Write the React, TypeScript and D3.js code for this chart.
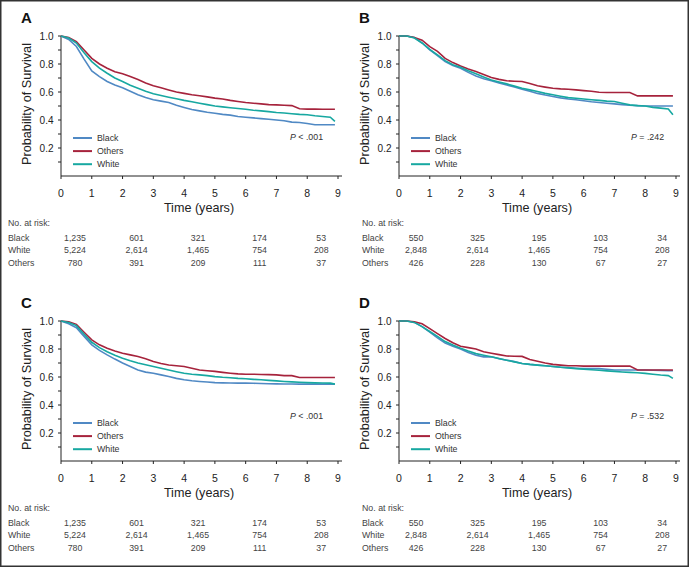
import React from 'react';
import * as d3 from 'd3';

// survival estimates, every quarter year
const times = [0, 0.25, 0.5, 0.75, 1, 1.25, 1.5, 1.75, 2, 2.25, 2.5, 2.75, 3, 3.25, 3.5, 3.75, 4, 4.25, 4.5, 4.75, 5, 5.25, 5.5, 5.75, 6, 6.25, 6.5, 6.75, 7, 7.25, 7.5, 7.75, 8, 8.25, 8.5, 8.75, 8.9];

const aBlack = [1, .975, .925, .835, .75, .71, .675, .65, .63, .605, .58, .56, .545, .535, .525, .505, .49, .475, .465, .455, .448, .44, .435, .425, .42, .415, .41, .405, .40, .395, .385, .382, .375, .366, .366, .366, .366];
const aOthers = [1, .99, .96, .90, .84, .80, .77, .745, .73, .71, .69, .665, .645, .63, .615, .60, .59, .58, .573, .565, .556, .55, .54, .532, .525, .52, .515, .51, .508, .505, .503, .48, .478, .478, .477, .477, .477];
const aWhite = [1, .985, .95, .88, .817, .77, .734, .70, .675, .648, .627, .605, .587, .575, .563, .552, .54, .53, .52, .51, .50, .494, .488, .482, .477, .47, .465, .46, .454, .45, .445, .44, .437, .43, .425, .42, .39];

const bBlack = [1, 1, .99, .95, .90, .86, .817, .79, .77, .74, .715, .695, .68, .665, .65, .635, .62, .605, .59, .578, .568, .558, .55, .545, .537, .53, .525, .52, .515, .51, .505, .503, .50, .50, .50, .50, .50];
const bOthers = [1, 1, .99, .97, .924, .89, .84, .81, .786, .765, .746, .725, .703, .69, .68, .677, .675, .66, .644, .635, .627, .622, .62, .615, .61, .605, .598, .596, .596, .596, .596, .572, .572, .572, .572, .572, .572];
const bWhite = [1, 1, .985, .95, .905, .865, .824, .795, .777, .752, .73, .707, .686, .672, .658, .642, .627, .615, .603, .59, .58, .57, .56, .555, .55, .545, .54, .535, .532, .52, .508, .503, .50, .49, .485, .478, .437];

const cBlack = [1, .98, .952, .89, .83, .79, .758, .728, .70, .675, .65, .635, .627, .615, .603, .59, .58, .573, .568, .564, .56, .558, .557, .556, .556, .555, .554, .552, .551, .55, .55, .549, .549, .549, .549, .549, .549];
const cOthers = [1, .995, .976, .92, .865, .83, .805, .785, .77, .758, .746, .73, .71, .697, .686, .68, .675, .662, .65, .645, .64, .633, .627, .622, .62, .62, .618, .617, .615, .61, .61, .596, .596, .596, .596, .596, .596];
const cWhite = [1, .99, .967, .905, .848, .81, .78, .755, .734, .716, .70, .687, .675, .662, .65, .638, .627, .62, .615, .61, .603, .598, .595, .59, .587, .583, .58, .576, .572, .568, .565, .562, .56, .558, .557, .556, .549];

const dBlack = [1, 1, .99, .96, .92, .88, .843, .82, .80, .775, .755, .744, .744, .73, .72, .71, .697, .69, .685, .68, .675, .67, .667, .663, .66, .66, .66, .655, .65, .65, .65, .65, .65, .648, .647, .645, .645];
const dOthers = [1, 1, .995, .98, .945, .91, .875, .845, .82, .81, .80, .78, .77, .76, .75, .748, .747, .725, .713, .70, .69, .685, .68, .68, .678, .678, .678, .678, .678, .678, .678, .65, .65, .65, .65, .65, .65];
const dWhite = [1, 1, .99, .96, .925, .89, .853, .828, .805, .785, .767, .755, .744, .732, .72, .708, .697, .69, .685, .68, .675, .67, .665, .66, .656, .652, .648, .644, .64, .636, .633, .63, .626, .62, .614, .61, .59];

// numbers at risk
const riskTimes = [0, 2, 4, 6, 8];
const risk1Black = [1235, 601, 321, 174, 53];
const risk1White = [5224, 2614, 1465, 754, 208];
const risk1Others = [780, 391, 209, 111, 37];
const risk2Black = [550, 325, 195, 103, 34];
const risk2White = [2848, 2614, 1465, 754, 208];
const risk2Others = [426, 228, 130, 67, 27];

const xTicks = [0, 1, 2, 3, 4, 5, 6, 7, 8, 9];
const yTickLabels = [0.2, 0.4, 0.6, 0.8, 1.0];
const yMinorTicks = [0.1, 0.2, 0.3, 0.4, 0.5, 0.6, 0.7, 0.8, 0.9, 1.0];

const COLORS = { Black: '#5089c4', Others: '#a6233c', White: '#17a8a1' };
const SANS = "'Liberation Sans', Arial, Helvetica, sans-serif";

const fmt = d3.format(',');

type PanelProps = {
  ox: number;
  oy: number;
  letter: string;
  black: number[];
  others: number[];
  white: number[];
  pLabel: string;
  pY: number;
  rBlack: number[];
  rWhite: number[];
  rOthers: number[];
  tableX: number;
  riskShift: number;
};

const Panel = (p: PanelProps) => {
  const x = d3.scaleLinear().domain([0, 9]).range([61, 338]);
  const y = d3.scaleLinear().domain([0, 1]).range([176, 36]);
  const line = d3
    .line<number>()
    .x((_, i) => x(times[i]))
    .y((d) => y(d));

  const series = [
    { name: 'Black', values: p.black },
    { name: 'Others', values: p.others },
    { name: 'White', values: p.white },
  ];
  const rows = [
    { name: 'Black', values: p.rBlack },
    { name: 'White', values: p.rWhite },
    { name: 'Others', values: p.rOthers },
  ];
  const pParts = p.pLabel.split(' ');

  return (
    <g transform={`translate(${p.ox},${p.oy})`} fontFamily={SANS}>
      <text x={21} y={23} fontWeight="bold" fontSize={15} fill="#111">
        {p.letter}
      </text>

      {/* axes */}
      <line x1={61} x2={61} y1={y(1)} y2={y(0)} stroke="#222" strokeWidth={1} />
      <line x1={61} x2={342} y1={y(0)} y2={y(0)} stroke="#222" strokeWidth={1} />
      {yMinorTicks.map((t) => (
        <line key={t} x1={58} x2={61} y1={y(t)} y2={y(t)} stroke="#222" strokeWidth={1} />
      ))}
      {yTickLabels.map((t) => (
        <text key={t} x={53.5} y={y(t) + 3.5} textAnchor="end" fontSize={10} fill="#222">
          {t.toFixed(1)}
        </text>
      ))}
      {xTicks.map((t) => (
        <g key={t}>
          <line x1={x(t)} x2={x(t)} y1={y(0)} y2={y(0) + 3} stroke="#222" strokeWidth={1} />
          <text x={x(t)} y={196.8} textAnchor="middle" fontSize={10.5} fill="#222">
            {t}
          </text>
        </g>
      ))}
      <text transform="translate(31,104) rotate(-90)" textAnchor="middle" fontSize={12.7} fill="#222">
        Probability of Survival
      </text>
      <text x={199} y={211.5} textAnchor="middle" fontSize={12.6} fill="#222">
        Time (years)
      </text>

      {/* survival curves */}
      {series.map((s) => (
        <path
          key={s.name}
          d={line(s.values) || ''}
          fill="none"
          stroke={COLORS[s.name as keyof typeof COLORS]}
          strokeWidth={1.6}
        />
      ))}

      {/* legend */}
      {series.map((s, i) => (
        <g key={s.name} transform={`translate(0,${138 + i * 13.1})`}>
          <line x1={73} x2={92} y1={0} y2={0} stroke={COLORS[s.name as keyof typeof COLORS]} strokeWidth={2} />
          <text x={97} y={3.2} fontSize={8.8} fill="#333">
            {s.name}
          </text>
        </g>
      ))}
      <text x={p.ox === 0 ? 290 : 293} y={p.pY + 3} fontSize={8.8} fill="#333">
        <tspan fontStyle="italic">{pParts[0]}</tspan>
        {' ' + pParts.slice(1).join(' ')}
      </text>

      {/* numbers at risk */}
      <text x={p.tableX} y={226} fontSize={8.8} fill="#444">
        No. at risk:
      </text>
      {rows.map((r, i) => (
        <g key={r.name}>
          <text x={p.tableX} y={240.5 + i * 12.7} fontSize={8.8} fill="#444">
            {r.name}
          </text>
          {r.values.map((v, j) => (
            <text
              key={j}
              x={x(riskTimes[j]) + p.riskShift}
              y={240.5 + i * 12.7}
              textAnchor="middle"
              fontSize={8.8}
              fill="#444"
            >
              {fmt(v)}
            </text>
          ))}
        </g>
      ))}
    </g>
  );
};

export default function App() {
  return (
    <svg
      width={689}
      height={567}
      style={{ position: 'absolute', left: 0, top: 0, display: 'block', background: '#fff' }}
    >
      <rect x={0.75} y={0.75} width={687.5} height={565.5} fill="#fff" stroke="#333" strokeWidth={1.5} />
      <Panel ox={0} oy={0} letter="A" black={aBlack} others={aOthers} white={aWhite} pLabel="P < .001" pY={137}
        rBlack={risk1Black} rWhite={risk1White} rOthers={risk1Others} tableX={8} riskShift={14} />
      <Panel ox={338} oy={0} letter="B" black={bBlack} others={bOthers} white={bWhite} pLabel="P = .242" pY={137}
        rBlack={risk2Black} rWhite={risk2White} rOthers={risk2Others} tableX={24} riskShift={17} />
      <Panel ox={0} oy={285} letter="C" black={cBlack} others={cOthers} white={cWhite} pLabel="P < .001" pY={130.5}
        rBlack={risk1Black} rWhite={risk1White} rOthers={risk1Others} tableX={8} riskShift={14} />
      <Panel ox={338} oy={285} letter="D" black={dBlack} others={dOthers} white={dWhite} pLabel="P = .532" pY={131}
        rBlack={risk2Black} rWhite={risk2White} rOthers={risk2Others} tableX={24} riskShift={17} />
    </svg>
  );
}
